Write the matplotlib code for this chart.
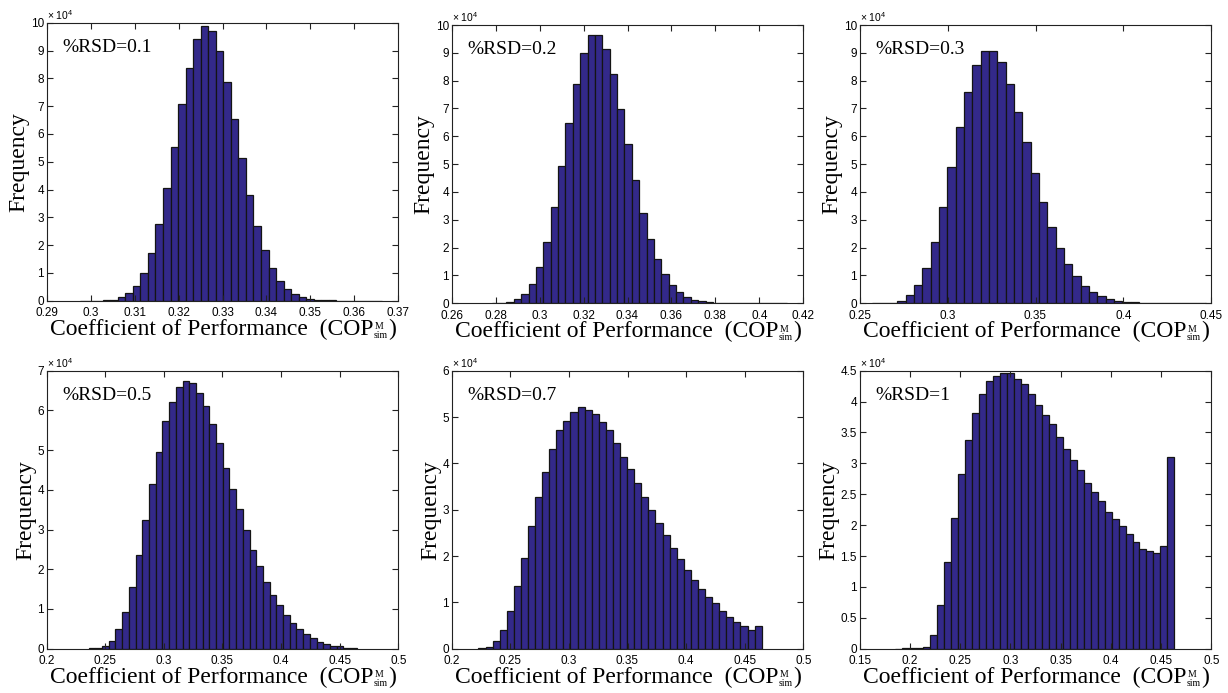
import numpy as np
import matplotlib
matplotlib.use('Agg')
from matplotlib import pyplot as plt
from matplotlib import font_manager

# Histograms of simulated COP for increasing %RSD (counts in units of 1e4)
rsd_labels = ['0.1', '0.2', '0.3', '0.5', '0.7', '1']

# first and last bin edge of each histogram (40 bins each)
bin_lo = [0.2976, 0.2782, 0.2572, 0.2358, 0.2228, 0.1856]
bin_hi = [0.3662, 0.4124, 0.4468, 0.4646, 0.4645, 0.4632]

freq_01 = [0.002, 0.003, 0.005, 0.01, 0.02, 0.12, 0.26, 0.54, 1.0, 1.70,
           2.76, 4.04, 5.52, 7.06, 8.36, 9.40, 9.88, 9.70, 8.99, 7.88,
           6.55, 5.14, 3.80, 2.69, 1.82, 1.16, 0.71, 0.41, 0.23, 0.12,
           0.06, 0.03, 0.015, 0.008, 0.004, 0.003, 0.002, 0.001, 0.001, 0.001]
freq_02 = [0.005, 0.02, 0.05, 0.14, 0.32, 0.68, 1.31, 2.20, 3.45, 4.93,
           6.47, 7.87, 9.0, 9.64, 9.64, 9.14, 8.24, 6.97, 5.71, 4.42,
           3.26, 2.30, 1.60, 1.05, 0.66, 0.40, 0.23, 0.13, 0.07, 0.035,
           0.018, 0.009, 0.005, 0.003, 0.002, 0.001, 0.001, 0.0005, 0.0003, 0.0003]
freq_03 = [0.002, 0.006, 0.02, 0.1, 0.29, 0.66, 1.28, 2.22, 3.45, 4.90,
           6.32, 7.60, 8.55, 9.08, 9.08, 8.68, 7.89, 6.87, 5.78, 4.69,
           3.63, 2.73, 1.98, 1.40, 0.97, 0.63, 0.40, 0.25, 0.16, 0.09,
           0.05, 0.03, 0.015, 0.008, 0.004, 0.002, 0.001, 0.001, 0.0005, 0.0005]
freq_05 = [0.01, 0.03, 0.08, 0.19, 0.49, 0.92, 1.56, 2.36, 3.24, 4.15,
           4.95, 5.73, 6.20, 6.60, 6.73, 6.70, 6.45, 6.12, 5.65, 5.17,
           4.56, 4.03, 3.51, 3.0, 2.49, 2.07, 1.68, 1.35, 1.10, 0.85,
           0.64, 0.49, 0.36, 0.26, 0.18, 0.12, 0.08, 0.06, 0.03, 0.02]
freq_07 = [0.015, 0.04, 0.16, 0.41, 0.81, 1.35, 1.96, 2.65, 3.27, 3.82,
           4.31, 4.71, 4.92, 5.11, 5.21, 5.16, 5.07, 4.90, 4.71, 4.45,
           4.14, 3.87, 3.58, 3.27, 2.99, 2.71, 2.45, 2.17, 1.94, 1.70,
           1.48, 1.29, 1.12, 0.98, 0.82, 0.69, 0.58, 0.49, 0.40, 0.50]
freq_10 = [0.003, 0.004, 0.004, 0.008, 0.02, 0.22, 0.70, 1.40, 2.12, 2.82,
           3.38, 3.81, 4.12, 4.34, 4.41, 4.46, 4.47, 4.36, 4.28, 4.12,
           3.94, 3.78, 3.63, 3.43, 3.23, 3.06, 2.90, 2.68, 2.54, 2.39,
           2.22, 2.10, 1.98, 1.85, 1.73, 1.62, 1.58, 1.55, 1.66, 3.11]
freqs = [freq_01, freq_02, freq_03, freq_05, freq_07, freq_10]

x_ticks = [np.arange(0.29, 0.3701, 0.01), np.arange(0.26, 0.4201, 0.02),
           np.arange(0.25, 0.4501, 0.05), np.arange(0.2, 0.5001, 0.05),
           np.arange(0.2, 0.5001, 0.05), np.arange(0.15, 0.5001, 0.05)]
y_ticks = [np.arange(0, 11, 1), np.arange(0, 11, 1), np.arange(0, 11, 1),
           np.arange(0, 8, 1), np.arange(0, 7, 1), np.arange(0, 4.51, 0.5)]

names = {f.name for f in font_manager.fontManager.ttflist}
tick_font = 'Liberation Sans Narrow' if 'Liberation Sans Narrow' in names else 'Liberation Sans'
tick_size = 8.5
serif = 'Liberation Serif'
plt.rcParams['mathtext.default'] = 'regular'

W, H = 1228, 693
# axes boxes in pixels: left, top, right, bottom
boxes = [(46.7, 22.7, 398.3, 300.7), (451.7, 25, 803.3, 303.3), (859.7, 25, 1211.3, 303.3),
         (46.7, 370.7, 398.3, 648.7), (451.7, 370.7, 803.3, 648.7), (859.7, 370.7, 1211.3, 648.7)]

bar_color = '#33298a'
line_color = '#222222'

fig = plt.figure(figsize=(W / 100, H / 100), dpi=100)

for i in range(6):
    l, t, r, b = boxes[i]
    ax = fig.add_axes([l / W, 1 - b / H, (r - l) / W, (b - t) / H])
    h = freqs[i]
    edges = np.linspace(bin_lo[i], bin_hi[i], len(h) + 1)
    ax.bar(edges[:-1], h, width=np.diff(edges), align='edge', color=bar_color,
           edgecolor='#141414', linewidth=0.9)

    xt, yt = x_ticks[i], y_ticks[i]
    ax.set_xlim(xt[0], xt[-1])
    ax.set_ylim(yt[0], yt[-1])
    ax.set_xticks(xt)
    ax.set_xticklabels(['%g' % round(v, 3) for v in xt])
    ax.set_yticks(yt)
    ax.set_yticklabels(['%g' % round(v, 2) for v in yt])
    ax.tick_params(direction='in', top=True, right=True, length=4, width=0.8,
                   color=line_color, labelsize=tick_size)
    ax.tick_params(axis='x', pad=4.8)
    ax.tick_params(axis='y', pad=2)
    for lab in ax.get_xticklabels() + ax.get_yticklabels():
        lab.set_family(tick_font)
    for sp in ax.spines.values():
        sp.set_color(line_color)
        sp.set_linewidth(0.8)

    ax.set_ylabel('Frequency', family=serif, fontsize=17, labelpad=1)

    # x label built from pieces so M / sim sit stacked and small
    main = ax.annotate('Coefficient of Performance  (COP', xy=(0.5, 0), xycoords='axes fraction',
                       xytext=(-8, -24.5), textcoords='offset points', ha='center',
                       va='baseline', family=serif, fontsize=17)
    sup = ax.annotate('M', xy=(1, 1), xycoords=main, xytext=(0.8, -2.5),
                      textcoords='offset points', ha='left', va='top', family=serif, fontsize=7)
    sub = ax.annotate('sim', xy=(1, 0), xycoords=main, xytext=(0.3, 0),
                      textcoords='offset points', ha='left', va='bottom', family=serif, fontsize=7)
    ax.annotate(')', xy=(1, 0), xycoords=(sub, main), xytext=(0.5, 0),
                textcoords='offset points', ha='left', va='bottom', family=serif, fontsize=17)

    ax.text(0.044, 0.896, '%RSD=' + rsd_labels[i], transform=ax.transAxes,
            family=serif, fontsize=14, va='baseline')
    ax.text(0.0, 1.004, '\u00d7 10$^4$', transform=ax.transAxes, family=tick_font,
            fontsize=tick_size - 1, va='bottom', ha='left')

fig.savefig('out.png', dpi=100)
